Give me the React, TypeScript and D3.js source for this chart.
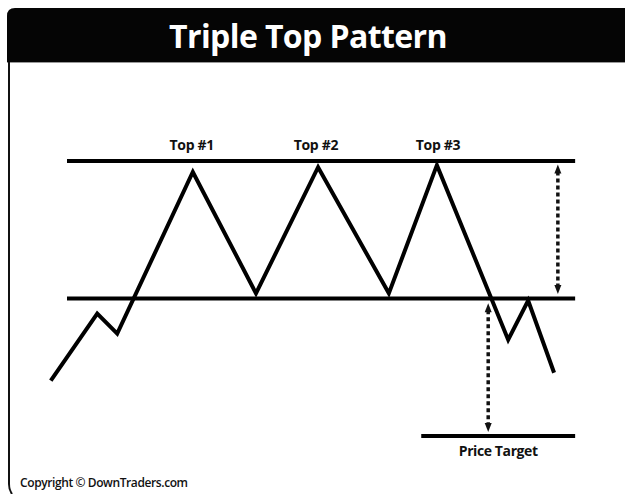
import React, { useRef, useEffect } from 'react';
import * as d3 from 'd3';

// price path (time index, price)
const pathTimes = [2, 10.6, 14.3, 28.3, 40, 51.5, 64.6, 73.5, 86.7, 90.4, 95.2];
const pathPrices = [36.1, 55.6, 49.8, 96.8, 61.5, 98.2, 61.5, 98.8, 48.0, 59.4, 38.4];

// horizontal levels
const levelNames = ['Resistance', 'Neckline', 'Price Target'];
const levelPrices = [100, 60, 20];
const levelStarts = [5, 5, 70.6];
const levelEnds = [99.1, 99.1, 99.1];

// labels on the tops
const topLabels = ['Top #1', 'Top #2', 'Top #3'];
const topTimes = [28.1, 51.1, 73.7];

// measured-move arrows
const arrowTimes = [95.9, 83];
const arrowFrom = [99, 58.6];
const arrowTo = [61.3, 21.2];

const W = 625;
const H = 494;

const App: React.FC = () => {
  const ref = useRef<SVGSVGElement>(null);

  useEffect(() => {
    if (!ref.current) return;
    const svg = d3.select(ref.current);
    svg.selectAll('*').remove();

    const x = d3.scaleLinear().domain([0, 100]).range([40, 580]);
    const y = d3.scaleLinear().domain([20, 100]).range([436, 161]);

    // frame
    svg.append('path')
      .attr('d', `M7,62 L7,16 Q7,8 15,8 L${W},8 L${W},62 Z`)
      .attr('fill', '#050505');
    svg.append('line')
      .attr('x1', 7).attr('x2', W).attr('y1', 62.5).attr('y2', 62.5)
      .attr('stroke', '#999').attr('stroke-width', 1);
    svg.append('path')
      .attr('d', `M9,62 L9,484 Q9,490 12,494`)
      .attr('fill', 'none').attr('stroke', '#111').attr('stroke-width', 2);

    svg.append('text')
      .attr('x', 308).attr('y', 48)
      .attr('text-anchor', 'middle')
      .attr('font-family', '"Open Sans", sans-serif')
      .attr('font-weight', 700)
      .attr('font-size', 32)
      .attr('letter-spacing', -0.6)
      .attr('fill', '#fff')
      .text('Triple Top Pattern');

    // levels
    svg.selectAll('.level')
      .data(levelNames)
      .enter()
      .append('line')
      .attr('class', 'level')
      .attr('x1', (d, i) => x(levelStarts[i]))
      .attr('x2', (d, i) => x(levelEnds[i]))
      .attr('y1', (d, i) => y(levelPrices[i]))
      .attr('y2', (d, i) => y(levelPrices[i]))
      .attr('stroke', '#000')
      .attr('stroke-width', 4);

    // price path
    const line = d3.line<number>()
      .x((d, i) => x(pathTimes[i]))
      .y(d => y(d));

    svg.append('path')
      .datum(pathPrices)
      .attr('fill', 'none')
      .attr('stroke', '#000')
      .attr('stroke-width', 4)
      .attr('stroke-linejoin', 'miter')
      .attr('d', line);

    // arrows
    arrowTimes.forEach((t, i) => {
      const ax = x(t);
      const y1 = y(arrowFrom[i]);
      const y2 = y(arrowTo[i]);
      svg.append('line')
        .attr('x1', ax).attr('x2', ax)
        .attr('y1', y1 + 7).attr('y2', y2 - 7)
        .attr('stroke', '#111')
        .attr('stroke-width', 3.5)
        .attr('stroke-dasharray', '4 3');
      svg.append('path')
        .attr('d', `M${ax},${y1} L${ax - 3.5},${y1 + 9} L${ax + 3.5},${y1 + 9} Z`)
        .attr('fill', '#111');
      svg.append('path')
        .attr('d', `M${ax},${y2} L${ax - 3.5},${y2 - 9} L${ax + 3.5},${y2 - 9} Z`)
        .attr('fill', '#111');
    });

    // labels
    svg.selectAll('.top-label')
      .data(topLabels)
      .enter()
      .append('text')
      .attr('class', 'top-label')
      .attr('x', (d, i) => x(topTimes[i]))
      .attr('y', 150)
      .attr('text-anchor', 'middle')
      .attr('font-family', '"Open Sans", sans-serif')
      .attr('font-weight', 700)
      .attr('font-size', 14)
      .attr('letter-spacing', -0.3)
      .attr('fill', '#111')
      .text(d => d);

    svg.append('text')
      .attr('x', x((levelStarts[2] + levelEnds[2]) / 2))
      .attr('y', y(levelPrices[2]) + 20)
      .attr('text-anchor', 'middle')
      .attr('font-family', '"Open Sans", sans-serif')
      .attr('font-weight', 700)
      .attr('font-size', 14)
      .attr('letter-spacing', -0.4)
      .attr('fill', '#111')
      .text('Price Target');

    svg.append('text')
      .attr('x', 20).attr('y', 487)
      .attr('font-family', '"Open Sans", sans-serif')
      .attr('font-weight', 600)
      .attr('font-size', 12)
      .attr('letter-spacing', -0.4)
      .attr('fill', '#111')
      .text('Copyright © DownTraders.com');
  }, []);

  return (
    <div style={{ position: 'absolute', left: 0, top: 0, width: W, height: H, background: '#fff' }}>
      <svg ref={ref} width={W} height={H} />
    </div>
  );
};

export default App;
